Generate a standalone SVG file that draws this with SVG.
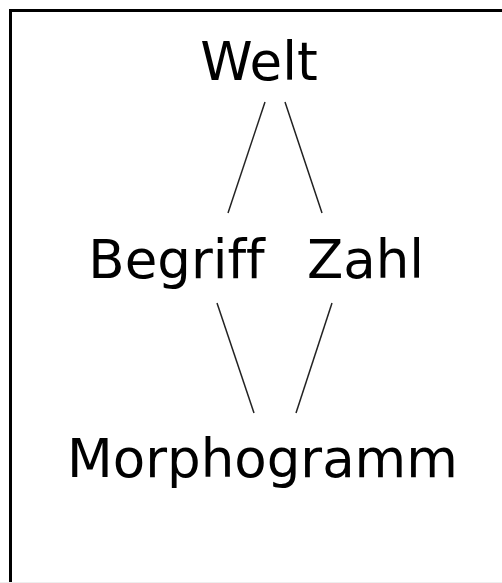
<svg xmlns="http://www.w3.org/2000/svg" width="502" height="583" viewBox="0 0 502 583">
<style>
text{font-family:"DejaVu Sans","Verdana",sans-serif;font-size:53px;fill:#000;text-anchor:middle;font-variant-ligatures:none;font-feature-settings:"liga" 0,"clig" 0}
.c line{stroke:#222;stroke-width:1.5;fill:none}
</style>
<rect width="502" height="583" fill="#fff"/>
<g id="frame" fill="none" stroke="#000" stroke-width="3">
<path d="M10.5 583 V10.5 H502"/>
</g>
<line x1="0" y1="582.5" x2="502" y2="582.5" stroke="#eee" stroke-width="1"/>
<g id="n-welt"><text x="259" y="80">Welt</text></g>
<g id="n-begriff"><text x="176.5" y="278">Begriff</text></g>
<g id="n-zahl"><text x="365.5" y="278">Zahl</text></g>
<g id="n-morphogramm"><text x="262.5" y="477">Morphogramm</text></g>
<g id="connectors" class="c">
<line x1="265" y1="102" x2="228" y2="213"/>
<line x1="285" y1="102" x2="322" y2="213"/>
<line x1="217" y1="303" x2="254" y2="413"/>
<line x1="332" y1="303" x2="296" y2="413"/>
</g>
</svg>
